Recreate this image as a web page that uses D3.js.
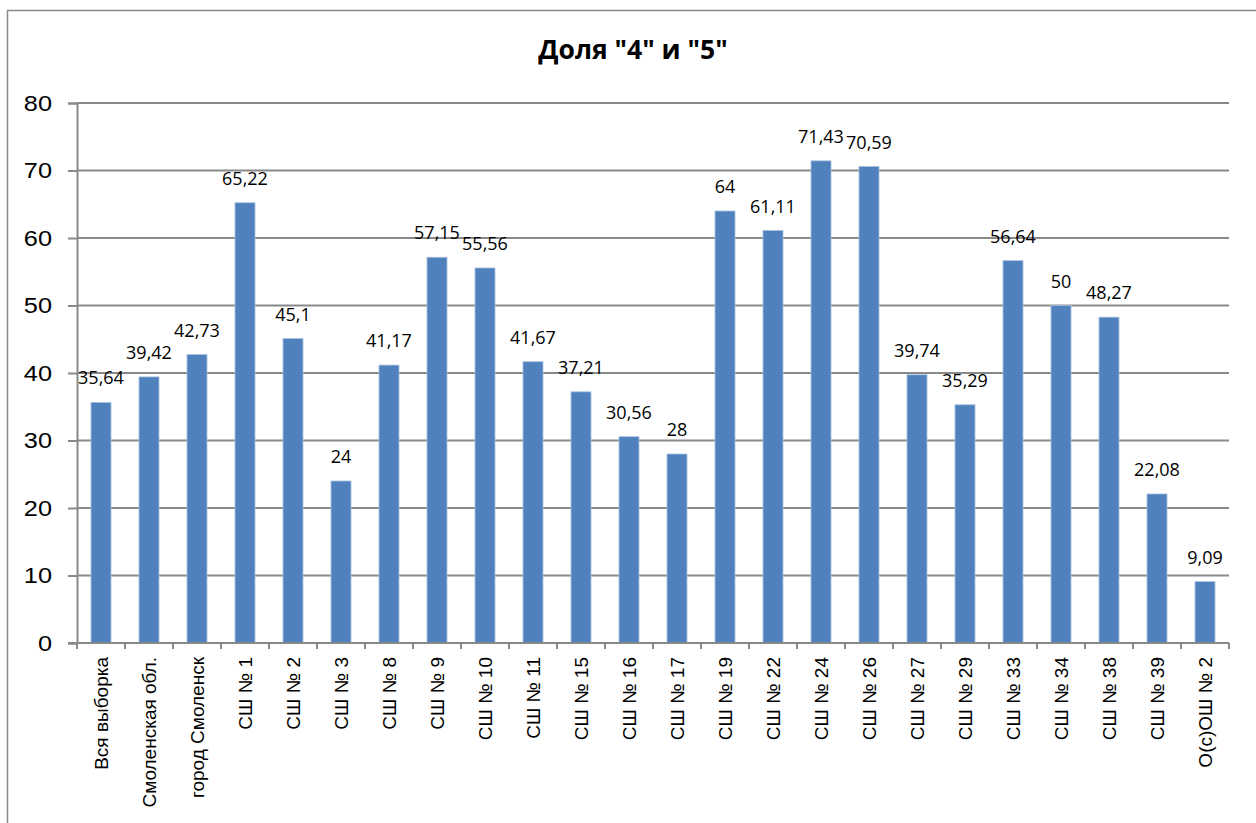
<!DOCTYPE html>
<html><head><meta charset="utf-8">
<script src="https://cdn.jsdelivr.net/npm/d3@7"></script>
<style>body{margin:0;background:#fff}svg{display:block}</style>
</head><body>
<svg id="c" width="1256" height="823"></svg>
<script>
const categories = ["Вся выборка","Смоленская обл.","город Смоленск","СШ № 1","СШ № 2","СШ № 3","СШ № 8","СШ № 9","СШ № 10","СШ № 11","СШ № 15","СШ № 16","СШ № 17","СШ № 19","СШ № 22","СШ № 24","СШ № 26","СШ № 27","СШ № 29","СШ № 33","СШ № 34","СШ № 38","СШ № 39","О(с)ОШ № 2"];
const values = [35.64,39.42,42.73,65.22,45.1,24,41.17,57.15,55.56,41.67,37.21,30.56,28,64,61.11,71.43,70.59,39.74,35.29,56.64,50,48.27,22.08,9.09];
const yTicks = [0,10,20,30,40,50,60,70,80];
const title = "Доля \"4\" и \"5\"";

const svg = d3.select("#c");
const gray = "#898989";
const L = 77, R = 1229, T = 103, B = 643;

svg.append("rect").attr("x",7.5).attr("y",10.5).attr("width",1300).attr("height",900)
  .attr("fill","none").attr("stroke",gray).attr("stroke-width",1.5);

svg.append("text").attr("x",633).attr("y",59).attr("text-anchor","middle")
  .attr("font-family","Open Sans").attr("font-weight","bold").attr("font-size",26.5)
  .attr("fill","#000").text(title);

const x = d3.scaleBand().domain(categories).range([L,R]).padding(0);
const y = d3.scaleLinear().domain([0,80]).range([B,T]);

// gridlines
svg.append("g").selectAll("line").data(yTicks.filter(d=>d>0)).join("line")
  .attr("x1",L).attr("x2",R).attr("y1",d=>y(d)).attr("y2",d=>y(d))
  .attr("stroke",gray).attr("stroke-width",2);

// y axis
const yAxis = svg.append("g").attr("transform",`translate(${L},0)`)
  .call(d3.axisLeft(y).tickValues(yTicks).tickSize(9).tickPadding(0).tickFormat(d=>d));
yAxis.select(".domain").attr("stroke",gray).attr("stroke-width",2);
yAxis.selectAll(".tick line").attr("stroke",gray).attr("stroke-width",2);
yAxis.selectAll(".tick text").remove();
svg.append("g").selectAll("text").data(yTicks).join("text")
  .attr("transform",d=>`translate(52,${y(d)}) scale(1.15,1)`)
  .attr("dy","0.36em").attr("text-anchor","end")
  .attr("font-family","Liberation Sans").attr("font-size",22).attr("fill","#000")
  .text(d=>d);

// bars
const bw = 20;
svg.append("g").selectAll("rect").data(values).join("rect")
  .attr("x",(d,i)=>x(categories[i])+x.bandwidth()/2-bw/2)
  .attr("y",d=>y(d)).attr("width",bw).attr("height",d=>B-y(d))
  .attr("fill","#4F81BD").attr("stroke","#a9c0df").attr("stroke-width",0.8);

// x axis
const xAxis = svg.append("g").attr("transform",`translate(0,${B})`)
  .call(d3.axisBottom(x).tickSize(0).tickFormat(""));
xAxis.select(".domain").remove();
svg.append("line").attr("x1",L-9).attr("x2",R).attr("y1",B).attr("y2",B)
  .attr("stroke",gray).attr("stroke-width",2);
const bounds = categories.map(c=>x(c)).concat([R]);
svg.append("g").selectAll("line").data(bounds).join("line")
  .attr("x1",d=>d).attr("x2",d=>d).attr("y1",B).attr("y2",B+6)
  .attr("stroke",gray).attr("stroke-width",2);

svg.append("g").selectAll("text").data(categories).join("text")
  .attr("transform",d=>`translate(${x(d)+x.bandwidth()/2},657) rotate(-90)`)
  .attr("dy","0.35em").attr("text-anchor","end")
  .attr("font-family","Liberation Sans").attr("font-size",19).attr("fill","#000")
  .text(d=>d);

// data labels
svg.append("g").selectAll("text").data(values).join("text")
  .attr("x",(d,i)=>x(categories[i])+x.bandwidth()/2)
  .attr("y",d=>y(d)-18).attr("text-anchor","middle")
  .attr("font-family","Open Sans").attr("font-size",18).attr("fill","#000")
  .text(d=>String(d).replace(".",","));
</script>
</body></html>
